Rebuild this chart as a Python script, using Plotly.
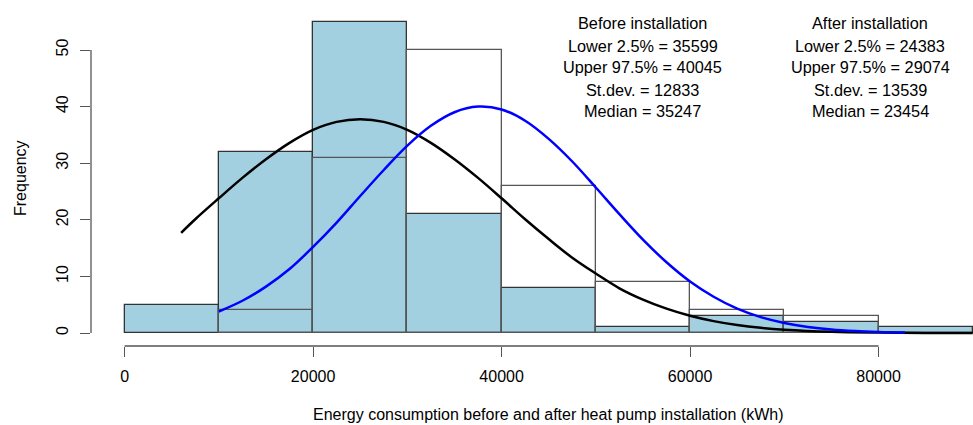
import plotly.graph_objects as go

# ---- data ----
bin_width = 10000
after_left = [0, 10000, 20000, 30000, 40000, 50000, 60000, 70000, 80000]
after_counts = [5, 32, 55, 21, 8, 1, 3, 2, 1]
before_left = [10000, 20000, 30000, 40000, 50000, 60000, 70000]
before_counts = [4, 31, 50, 26, 9, 4, 3]

# fitted-curve points
after_curve_x = [6000, 7500, 10000, 12500, 15000, 17500, 20000, 22500, 25000, 27500,
                 30000, 32500, 35000, 37500, 40000, 42500, 45000, 47500, 50000, 52500,
                 55000, 57500, 60000, 62500, 65000, 67500, 70000, 75000, 80000, 85000, 90000]
after_curve_y = [17.7, 20.1, 23.8, 27.4, 30.7, 33.6, 35.9, 37.3, 37.75, 37.3,
                 35.9, 33.6, 30.7, 27.4, 23.8, 20.1, 16.6, 13.3, 10.5, 7.9,
                 5.9, 4.3, 3.05, 2.1, 1.41, 0.92, 0.59, 0.22, 0.08, 0.02, 0.005]
before_curve_x = [10000, 12500, 15000, 17500, 20000, 22500, 25000, 27500, 30000, 32500,
                  35000, 37500, 40000, 42500, 45000, 47500, 50000, 52500, 55000, 57500,
                  60000, 62500, 65000, 67500, 70000, 72500, 75000, 77500, 80000, 82800]
before_curve_y = [3.8, 5.7, 8.2, 11.3, 15.2, 19.5, 24.2, 28.8, 33.1, 36.6,
                  39.0, 40.0, 39.5, 37.5, 34.3, 30.3, 25.7, 21.0, 16.5, 12.5,
                  9.1, 6.4, 4.3, 2.8, 1.77, 1.07, 0.62, 0.35, 0.19, 0.09]

x_ticks = [0, 20000, 40000, 60000, 80000]
y_ticks = [0, 10, 20, 30, 40, 50]

before_text = ["Before installation", "Lower 2.5% = 35599", "Upper 97.5% = 40045",
               "St.dev. = 12833", "Median = 35247"]
after_text = ["After installation", "Lower 2.5% = 24383", "Upper 97.5% = 29074",
              "St.dev. = 13539", "Median = 23454"]
x_title = "Energy consumption before and after heat pump installation (kWh)"
y_title = "Frequency"

# ---- figure ----
W, H = 973, 425
ML, MR, MT, MB = 91, 0, 5, 79
PW, PH = W - ML - MR, H - MT - MB
FONT = "Liberation Sans, Arial, sans-serif"

def px_to_paper_x(px):
    return (px - ML) / PW

def px_to_paper_y(py):
    return (H - MB - py) / PH

fig = go.Figure()
fig.add_trace(go.Bar(
    x=[l + bin_width / 2 for l in after_left], y=after_counts, width=bin_width,
    marker=dict(color="#a2d0e1", line=dict(color="#333333", width=1.3)),
    name="After", showlegend=False, hoverinfo="skip"))
fig.add_trace(go.Bar(
    x=[l + bin_width / 2 for l in before_left], y=before_counts, width=bin_width,
    marker=dict(color="rgba(0,0,0,0)", line=dict(color="#555555", width=1.3)),
    name="Before", showlegend=False, hoverinfo="skip"))
fig.add_trace(go.Scatter(
    x=after_curve_x, y=after_curve_y, mode="lines",
    line=dict(color="black", width=2.5, shape="spline"), showlegend=False))
fig.add_trace(go.Scatter(
    x=before_curve_x, y=before_curve_y, mode="lines",
    line=dict(color="#0000ff", width=2.5, shape="spline"), showlegend=False))

# axis lines (R style, spanning tick range only)
fig.add_shape(type="line", xref="x", yref="paper", x0=x_ticks[0], x1=x_ticks[-1],
              y0=0, y1=0, line=dict(color="#555555", width=1.3))
fig.add_shape(type="line", xref="paper", yref="y", x0=0, x1=0,
              y0=y_ticks[0], y1=y_ticks[-1], line=dict(color="#555555", width=1.3))

annotations = []
line_y = [23, 45.5, 67.5, 89.5, 111.5]
for txt, py in zip(before_text, line_y):
    annotations.append(dict(text=txt, xref="paper", yref="paper",
                            x=px_to_paper_x(642.5), y=px_to_paper_y(py),
                            xanchor="center", yanchor="middle", showarrow=False,
                            font=dict(family=FONT, size=16.3, color="black")))
for txt, py in zip(after_text, line_y):
    annotations.append(dict(text=txt, xref="paper", yref="paper",
                            x=px_to_paper_x(870), y=px_to_paper_y(py),
                            xanchor="center", yanchor="middle", showarrow=False,
                            font=dict(family=FONT, size=16.3, color="black")))
annotations.append(dict(text=x_title, xref="paper", yref="paper",
                        x=px_to_paper_x(548), y=px_to_paper_y(414),
                        xanchor="center", yanchor="middle", showarrow=False,
                        font=dict(family=FONT, size=16, color="black")))
annotations.append(dict(text=y_title, xref="paper", yref="paper",
                        x=px_to_paper_x(20), y=px_to_paper_y(178),
                        xanchor="center", yanchor="middle", showarrow=False,
                        textangle=-90,
                        font=dict(family=FONT, size=16, color="black")))

fig.update_layout(
    width=W, height=H, margin=dict(l=ML, r=MR, t=MT, b=MB),
    paper_bgcolor="white", plot_bgcolor="white", barmode="overlay", bargap=0,
    font=dict(family=FONT, size=16, color="black"),
    annotations=annotations,
    xaxis=dict(range=[-3564, 90020], tickvals=x_ticks, ticktext=[str(v) for v in x_ticks],
               ticks="outside", ticklen=10, tickcolor="#555555", tickwidth=1.3,
               showgrid=False, zeroline=False, showline=False,
               ticklabelstandoff=6, tickfont=dict(family=FONT, size=16)),
    yaxis=dict(range=[-2.297, 57.95], tickvals=y_ticks, ticktext=[str(v) for v in y_ticks],
               ticks="outside", ticklen=10, tickcolor="#555555", tickwidth=1.3,
               showgrid=False, zeroline=False, showline=False, tickangle=-90,
               ticklabelstandoff=6, tickfont=dict(family=FONT, size=16)),
)

fig.write_html("out.html", config={"displayModeBar": False},
               post_script="document.body.style.margin='0';document.body.style.padding='0';")
